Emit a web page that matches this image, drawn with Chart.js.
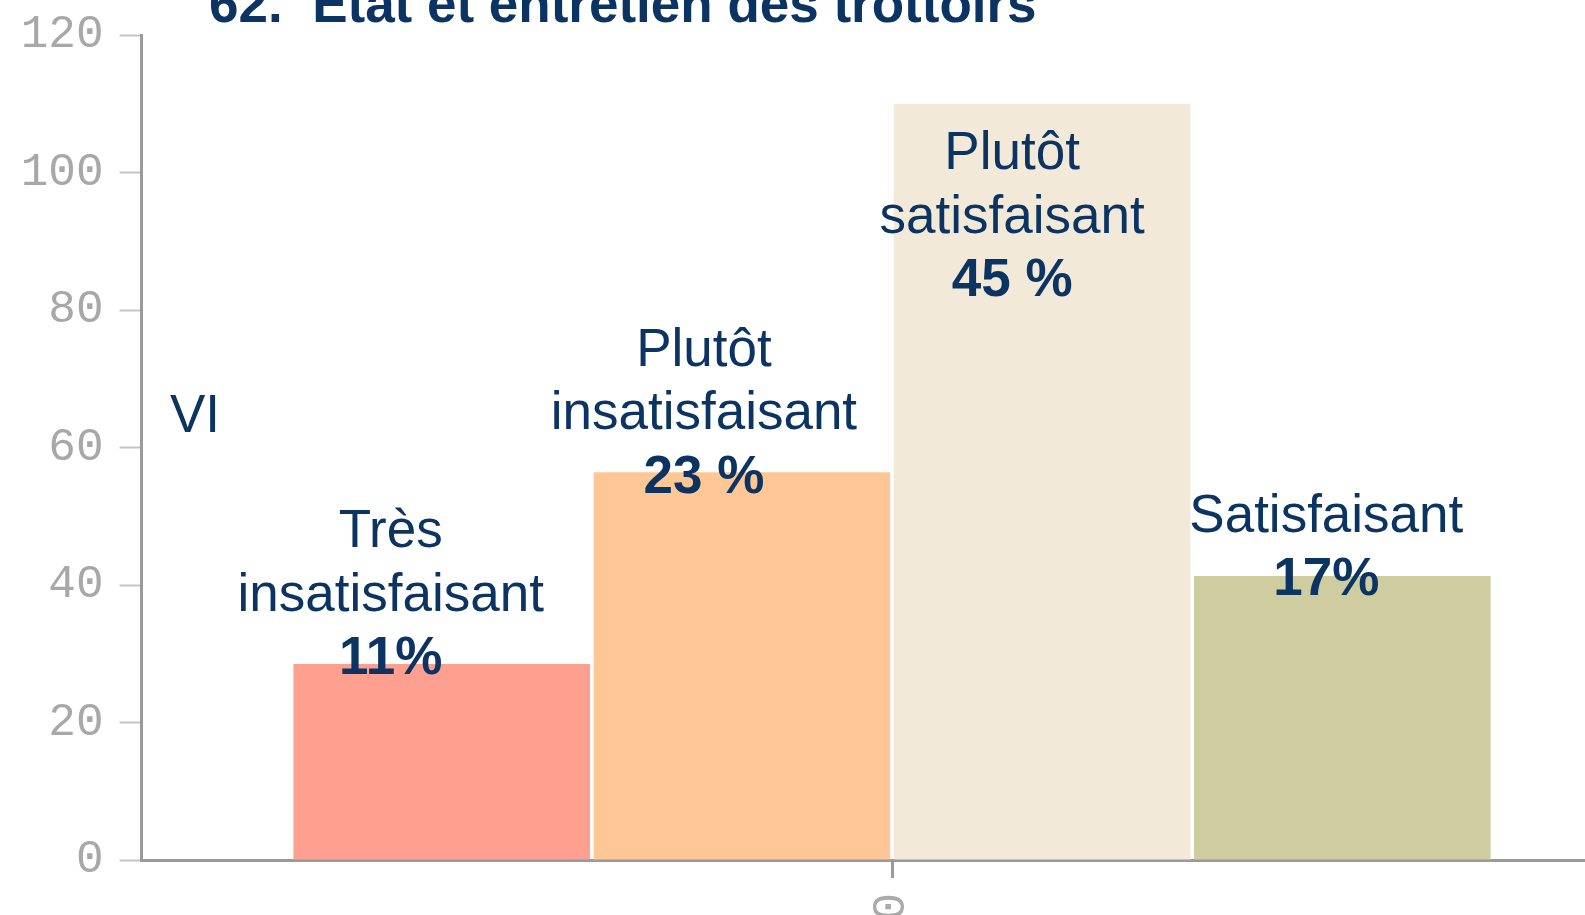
<!DOCTYPE html>
<html>
<head>
  <meta charset="utf-8">
  <style>
    html, body { margin: 0; padding: 0; background: #fff; overflow: hidden; }
    #wrap { position: absolute; left: 0; top: 0; width: 1700px; height: 960px; }
  </style>
</head>
<body>

  <div id='wrap'>
    <canvas id='tripChart' width="1700" height="960"></canvas>
  </div>

<script src="https://cdn.jsdelivr.net/npm/chart.js@4/dist/chart.umd.min.js"></script>

<script>
// values
const categories = ['0'];
const seriesNames = ['Très insatisfaisant', 'Plutôt insatisfaisant', 'Plutôt satisfaisant', 'Satisfaisant'];
const seriesValues = [28.5, 56.4, 110, 41.3];
const yTicks = [0, 20, 40, 60, 80, 100, 120];

const colors = ['#fe9f8f', '#fec795', '#f2e9d8', '#cfcd9f'];
const navy = '#0b3463';

// text lines printed over each bar, last one in bold
const notes = [
  { lines: ['Très', 'insatisfaisant', '11%'], at: 27.0, dx: -51 },
  { lines: ['Plutôt', 'insatisfaisant', '23 %'], at: 53.4, dx: -38 },
  { lines: ['Plutôt', 'satisfaisant', '45 %'], at: 82.0, dx: -30 },
  { lines: ['Satisfaisant', '17%'], at: 38.5, dx: -16 }
];

const textPlugin = {
  id: 'textPlugin',
  afterDatasetsDraw(chart) {
    const ctx = chart.ctx;
    const y = chart.scales.y;
    ctx.save();
    ctx.fillStyle = navy;
    ctx.textBaseline = 'alphabetic';

    // title, cut by the top edge
    ctx.textAlign = 'left';
    ctx.font = 'bold 53px "Liberation Sans", Arial, sans-serif';
    ctx.fillText('62.  État et entretien des trottoirs', 209, 22);

    ctx.font = '53px "Liberation Sans", Arial, sans-serif';
    ctx.fillText('VI', 170, 432);

    ctx.textAlign = 'center';
    notes.forEach((n, i) => {
      const bar = chart.getDatasetMeta(i).data[0];
      const x = bar.x + n.dx;
      const base = y.getPixelForValue(n.at);
      const last = n.lines.length - 1;
      n.lines.forEach((t, k) => {
        ctx.font = (k === last ? 'bold ' : '') + '53px "Liberation Sans", Arial, sans-serif';
        ctx.fillText(t, x, base - (last - k) * 63.5);
      });
    });
    ctx.restore();
  }
};

const datasets = seriesNames.map((name, i) => ({
  label: name,
  data: [seriesValues[i]],
  backgroundColor: colors[i],
  borderWidth: 0,
  categoryPercentage: 0.8,
  barPercentage: 0.988
}));

const config = {
  type: 'bar',
  data: { labels: categories, datasets },
  options: {
    responsive: false,
    animation: false,
    devicePixelRatio: 1,
    layout: { padding: { top: 35, right: 57.5, left: 0, bottom: 0 } },
    plugins: {
      legend: { display: false },
      tooltip: { enabled: false },
      title: { display: false }
    },
    scales: {
      x: {
        afterFit(scale) {
          scale.height = 100;
          scale.paddingLeft = 0;
          scale.paddingRight = 0;
        },
        border: { display: true, color: '#9a9a9a', width: 3 },
        grid: {
          offset: false,
          drawOnChartArea: false,
          drawTicks: true,
          tickLength: 18,
          tickColor: '#9a9a9a',
          tickWidth: 3
        },
        ticks: {
          color: '#aaaaaa',
          font: { family: '"Liberation Mono", monospace', size: 46 },
          minRotation: 90,
          maxRotation: 90,
          padding: 15
        }
      },
      y: {
        min: 0,
        max: 120,
        afterFit(scale) {
          scale.width = 141.5;
          scale.paddingTop = 0;
          scale.paddingBottom = 0;
        },
        afterBuildTicks(scale) { scale.ticks = yTicks.map(v => ({ value: v })); },
        border: { display: true, color: '#9a9a9a', width: 3 },
        grid: {
          drawOnChartArea: false,
          drawTicks: true,
          tickLength: 22,
          tickColor: '#c4c4c4',
          tickWidth: 2
        },
        ticks: {
          color: '#a8a8a8',
          font: { family: '"Liberation Mono", monospace', size: 46 },
          padding: 16
        }
      }
    }
  },
  plugins: [textPlugin]
};

const myChart = new Chart(document.getElementById('tripChart'), config);
</script>

</body>
</html>
